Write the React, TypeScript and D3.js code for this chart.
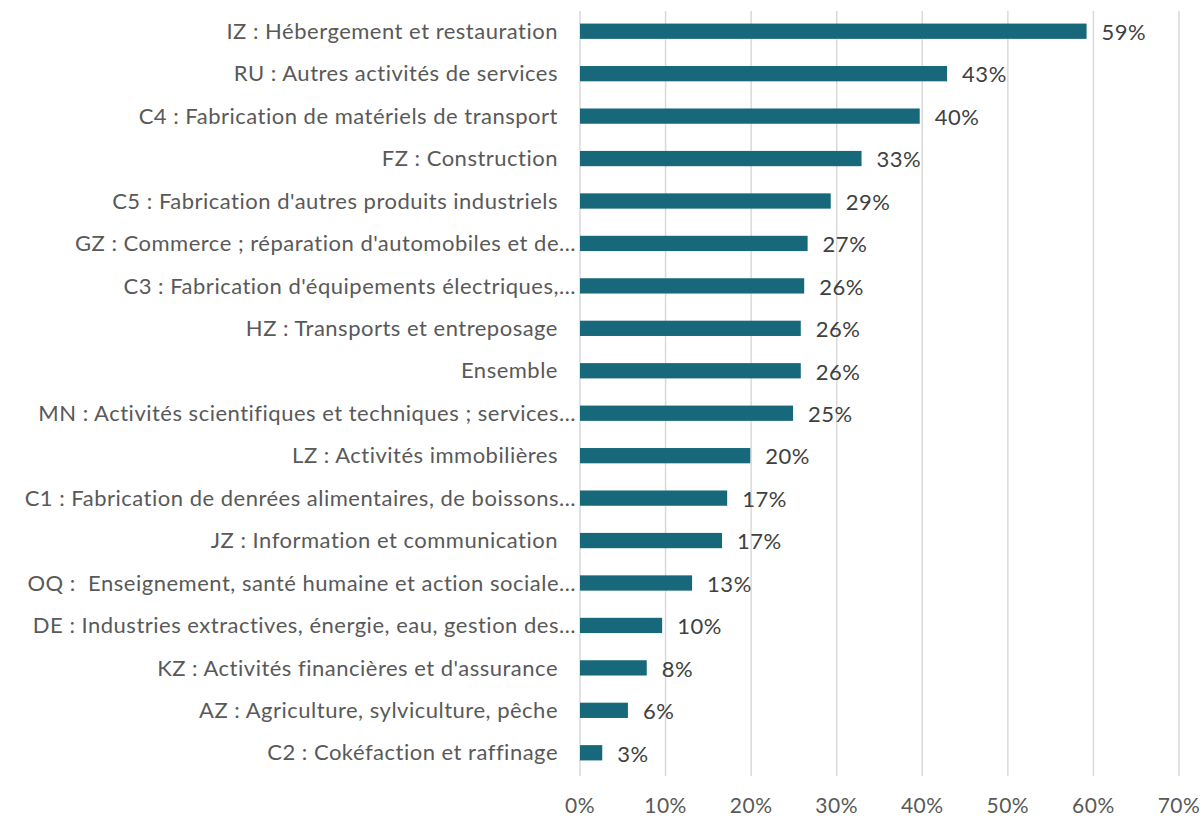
import React from "react";
import * as d3 from "d3";

const categories = [
  "IZ : Hébergement et restauration ",
  "RU : Autres activités de services ",
  "C4 : Fabrication de matériels de transport ",
  "FZ : Construction ",
  "C5 : Fabrication d'autres produits industriels ",
  "GZ : Commerce ; réparation d'automobiles et de…",
  "C3 : Fabrication d'équipements électriques,…",
  "HZ : Transports et entreposage ",
  "Ensemble ",
  "MN : Activités scientifiques et techniques ; services…",
  "LZ : Activités immobilières ",
  "C1 : Fabrication de denrées alimentaires, de boissons…",
  "JZ : Information et communication ",
  "OQ :  Enseignement, santé humaine et action sociale…",
  "DE : Industries extractives, énergie, eau, gestion des…",
  "KZ : Activités financières et d'assurance ",
  "AZ : Agriculture, sylviculture, pêche ",
  "C2 : Cokéfaction et raffinage ",
];

const values = [59.2, 42.9, 39.7, 32.9, 29.3, 26.6, 26.2, 25.8, 25.8, 24.9, 19.9, 17.2, 16.6, 13.1, 9.6, 7.8, 5.6, 2.6];

const xTicks = [0, 10, 20, 30, 40, 50, 60, 70];

const W = 1203;
const H = 819;
const FONT = "Lato, 'Open Sans', sans-serif";

export default function App() {
  const x = d3.scaleLinear().domain([0, 70]).range([580, 1179]);
  const y = d3.scaleBand<string>().domain(categories).range([10, 774]).paddingInner(0.64).paddingOuter(0.32);
  const bw = y.bandwidth();

  return (
    <svg width={W} height={H} style={{ position: "absolute", left: 0, top: 0, background: "#fff" }}>
      {xTicks.map((t) => (
        <g key={t}>
          <line x1={x(t)} x2={x(t)} y1={11} y2={776} stroke="#d9d9d9" strokeWidth={1.5} />
          <text x={x(t)} y={813} textAnchor="middle" fontFamily={FONT} fontSize={21} letterSpacing={0.5} fill="#595959">
            {t}%
          </text>
        </g>
      ))}
      {categories.map((c, i) => {
        const yy = y(c)!;
        const trailing = c.endsWith(" ");
        return (
          <g key={c}>
            <rect x={x(0)} y={yy} width={x(values[i]) - x(0)} height={bw} fill="#17687a" />
            <text
              x={trailing ? 558 : 576}
              y={yy + bw / 2}
              dy="0.35em"
              textAnchor="end"
              fontFamily={FONT}
              fontSize={22}
              letterSpacing={0.5}
              fill="#595959"
              style={{ whiteSpace: "pre" }}
            >
              {c.replace(/ +$/, "")}
            </text>
            <text
              x={x(values[i]) + 15}
              y={yy + bw / 2}
              dy="0.4em"
              fontFamily={FONT}
              fontSize={22}
              letterSpacing={0.5}
              fill="#404040"
            >
              {Math.round(values[i])}%
            </text>
          </g>
        );
      })}
    </svg>
  );
}
